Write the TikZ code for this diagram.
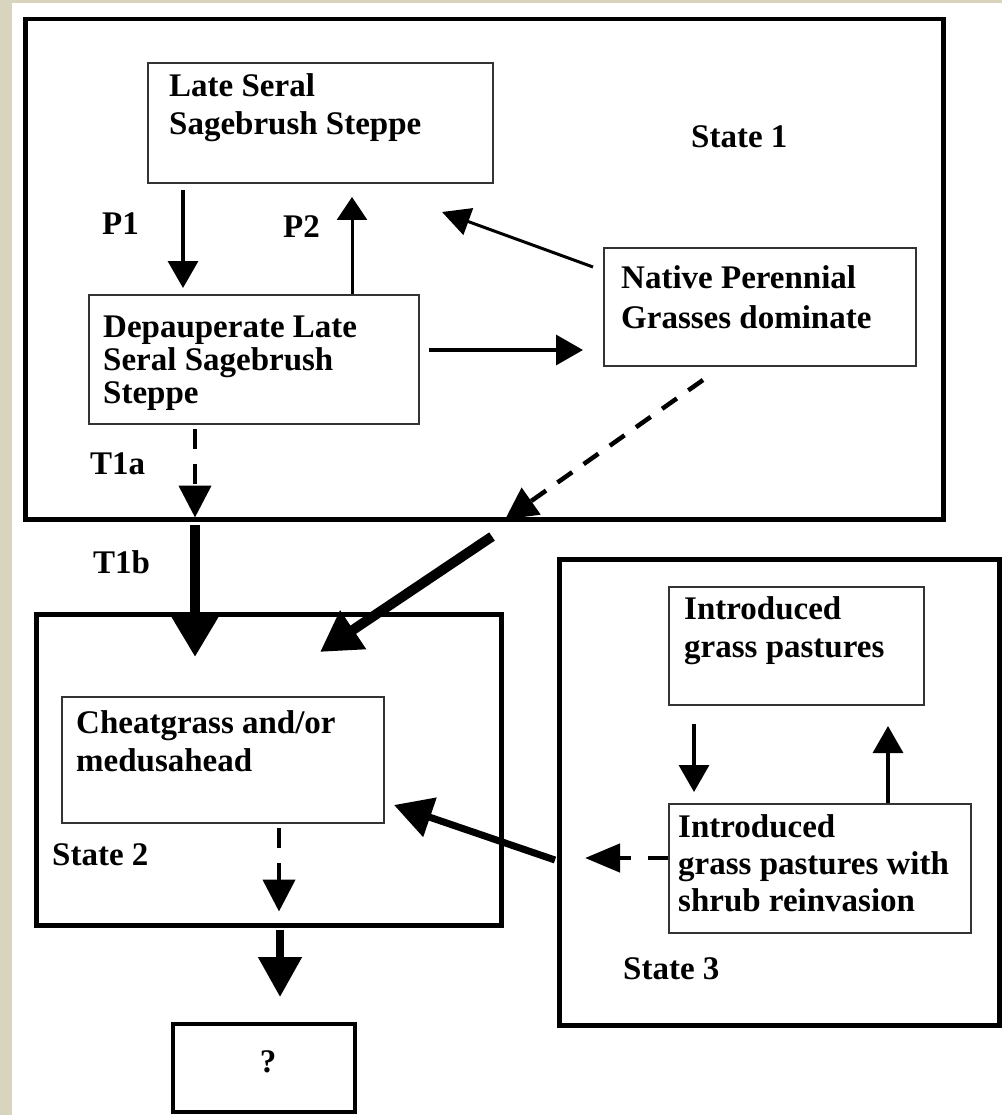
\documentclass[tikz,border=0pt]{standalone}
\usepackage{fontspec}
\setmainfont{Liberation Serif}
\usetikzlibrary{arrows.meta,calc}
\definecolor{beige}{HTML}{D9D4BE}
\begin{document}
\begin{tikzpicture}[x=1pt,y=-1pt,
  statebox/.style={draw=black, line width=4.5pt, inner sep=0pt, anchor=north west},
  innerbox/.style={draw=black!80, line width=2pt, inner sep=0pt, anchor=north west},
  txt/.style={font=\fontsize{33}{38}\selectfont\bfseries, inner sep=0pt, anchor=base west, align=left},
  thinarr/.style={line width=3.5pt, -{Triangle[width=30pt,length=27pt]}},
  thickarr/.style={line width=10pt, -{Triangle[width=44pt,length=40pt]}},
  dasharr/.style={line width=4.5pt, dash pattern=on 20pt off 15pt, -{Triangle[width=32pt,length=32pt]}},
]
\useasboundingbox (0,0) rectangle (1002,1115);
\fill[white] (0,0) rectangle (1002,1115);
\fill[beige] (0,0) rectangle (12,1115);
\fill[beige] (0,0) rectangle (1002,3);

% boxes
\node[statebox, minimum width=918pt, minimum height=500pt] (state1) at (23,17) {};
\node[innerbox, minimum width=345pt, minimum height=120pt] (late) at (147,62) {};
\node[innerbox, minimum width=330pt, minimum height=129pt] (dep) at (88,294) {};
\node[innerbox, minimum width=312pt, minimum height=118pt] (native) at (603,247) {};
\node[statebox, minimum width=465pt, minimum height=311pt] (state2) at (34,612) {};
\node[innerbox, minimum width=322pt, minimum height=126pt] (cheat) at (61,696) {};
\node[statebox, line width=4pt, minimum width=182pt, minimum height=88pt] (qbox) at (171,1022) {};
\node[statebox, minimum width=440pt, minimum height=466pt] (state3) at (557,557) {};
\node[innerbox, minimum width=255pt, minimum height=118pt] (intro) at (668,586) {};
\node[innerbox, minimum width=302pt, minimum height=129pt] (shrub) at (668,803) {};

% texts (anchor = baseline of the last line)
\node[txt] (lateT) at (169,135) {Late Seral\\Sagebrush Steppe};
\node[txt, font=\fontsize{33}{33}\selectfont\bfseries] (depT) at (103,403) {Depauperate Late\\Seral Sagebrush\\Steppe};
\node[txt, font=\fontsize{33}{40}\selectfont\bfseries] (nativeT) at (621,328) {Native Perennial\\Grasses dominate};
\node[txt] (s1T) at (691,148) {State 1};
\node[txt] (p1T) at (102,235) {P1};
\node[txt] (p2T) at (283,237) {P2};
\node[txt] (t1aT) at (90,474) {T1a};
\node[txt] (t1bT) at (93,573) {T1b};
\node[txt] (cheatT) at (76,771) {Cheatgrass and/or\\medusahead};
\node[txt] (s2T) at (52,865) {State 2};
\node[txt, anchor=base] (qT) at (268,1072) {?};
\node[txt] (introT) at (684,657) {Introduced\\grass pastures};
\node[txt, font=\fontsize{33}{37}\selectfont\bfseries] (shrubT) at (678,911) {Introduced\\grass pastures with\\shrub reinvasion};
\node[txt] (s3T) at (623,979) {State 3};

% connectors, State 1
\draw[thinarr] ($(late.south west)+(36,6)$) -- ($(dep.north west)+(95,-6)$);
\draw[thinarr, line width=3pt, -{Triangle[width=30pt,length=23pt]}] ($(dep.north west)+(264,0)$) -- ($(late.south west)+(205,13)$);
\draw[thinarr] ($(dep.north east)+(9,56)$) -- ($(native.north west)+(-20,103)$);
\draw[thinarr, line width=3pt, -{Triangle[width=28pt,length=28pt]}] ($(native.north west)+(-10,20)$) -- ($(late.south east)+(-52,28)$);
\draw[dasharr] ($(dep.south west)+(107,4)$) -- ($(state1.south west)+(172,-4)$);
\draw[dasharr, dash pattern=on 18pt off 14pt] ($(native.south west)+(100,13)$) -- ($(state1.south west)+(482,-2)$);

% transitions to State 2
\draw[thickarr] ($(state1.south west)+(172,3)$) -- ($(state2.north west)+(161,45)$);
\draw[thickarr] ($(state1.south west)+(469,15)$) -- ($(state2.north west)+(286,40)$);
\draw[thickarr, line width=7pt, -{Triangle[width=40pt,length=38pt]}] ($(state3.north west)+(-2,303)$) -- ($(cheat.south east)+(9,-19)$);

% State 2 downward
\draw[dasharr] ($(cheat.south west)+(218,4)$) -- ($(state2.south west)+(245,-16)$);
\draw[thickarr, line width=8pt, -{Triangle[width=42pt,length=40pt]}] ($(state2.south west)+(246,2)$) -- ($(qbox.north west)+(109,-25)$);

% State 3
\draw[thinarr] ($(intro.south west)+(26,18)$) -- ($(shrub.north west)+(26,-11)$);
\draw[thinarr] ($(shrub.north west)+(220,0)$) -- ($(intro.south west)+(220,20)$);
\draw[dasharr, dash pattern=on 20pt off 17pt, -{Triangle[width=28pt,length=35pt]}] ($(shrub.north west)+(0,55)$) -- ($(state3.north west)+(28,301)$);
\end{tikzpicture}
\end{document}
